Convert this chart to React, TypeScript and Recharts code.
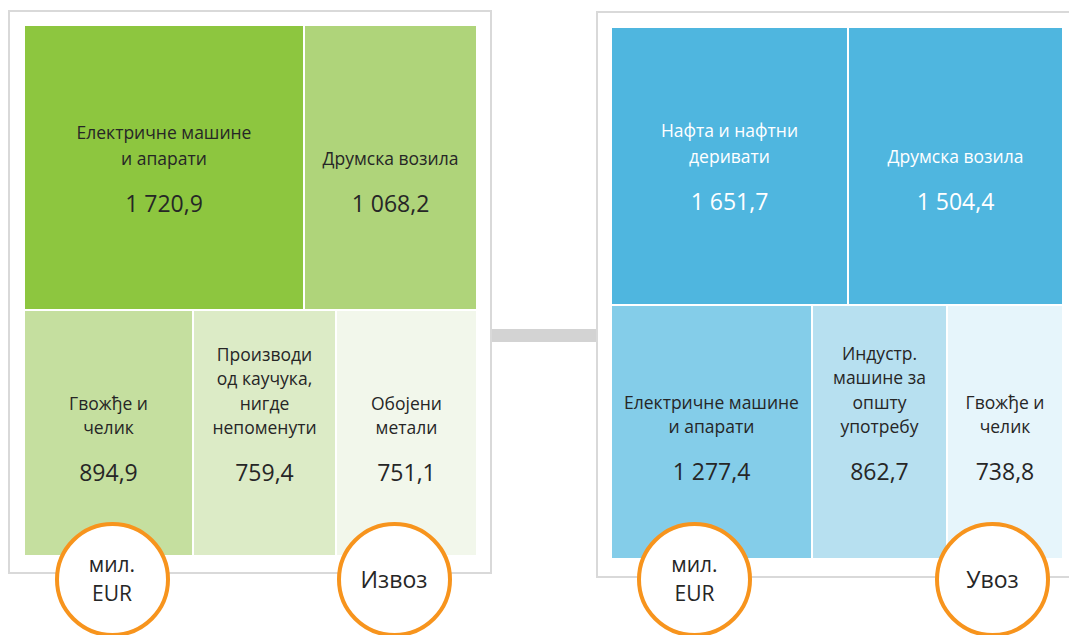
import React from 'react'
import { Treemap } from 'recharts'

// Извоз (export), mil. EUR
const exportNames = [
  'Електричне машине\nи апарати',
  'Друмска возила',
  'Гвожђе и\nчелик',
  'Производи\nод каучука,\nнигде\nнепоменути',
  'Обојени\nметали',
]
const exportValues = [1720.9, 1068.2, 894.9, 759.4, 751.1]

// Увоз (import), mil. EUR
const importNames = [
  'Нафта и нафтни\nдеривати',
  'Друмска возила',
  'Електричне машине\nи апарати',
  'Индустр.\nмашине за\nопшту\nупотребу',
  'Гвожђе и\nчелик',
]
const importValues = [1651.7, 1504.4, 1277.4, 862.7, 738.8]

// how many of the largest items go in the top row
const topRowCount = 2

const exportColors = ['#8dc63f', '#afd47a', '#c5df9f', '#dcebc6', '#f2f7eb']
const importColors = ['#4fb6df', '#4fb6df', '#84cde9', '#b7e0f0', '#e6f5fb']
const importTextColors = ['#ffffff', '#ffffff', '#262626', '#262626', '#262626']

const FONT = '"Open Sans", sans-serif'

const buildTree = (names: string[], values: number[]) => {
  const items = names.map((name, i) => ({ name, value: values[i] }))
  return [
    { name: 'top', children: items.slice(0, topRowCount) },
    { name: 'bottom', children: items.slice(topRowCount) },
  ]
}

const fmt = (v: number) => {
  const [int, dec] = v.toFixed(1).split('.')
  return int.replace(/\B(?=(\d{3})+(?!\d))/g, ' ') + ',' + dec
}

function makeCell(names: string[], fills: string[], textColors?: string[]) {
  return function Cell(props: any) {
    const { depth, x, y, width, height, name, value } = props
    if (depth !== 2) return <g />
    const i = names.indexOf(name)
    const lines = String(name).split('\n')
    const cx = x + width / 2
    const cy = y + height / 2
    const color = textColors ? textColors[i] : '#262626'
    const tall = height > 260
    const gap = tall ? 26 : 24.5
    const labelOff = tall ? -10 : -6
    const valueOff = tall ? 35 : 39
    return (
      <g>
        <rect x={x} y={y} width={width} height={height} fill={fills[i]} stroke="#fff" strokeWidth={2} />
        {lines.map((ln, k) => (
          <text
            key={k}
            x={cx}
            y={cy + labelOff - (lines.length - 1 - k) * gap}
            textAnchor="middle"
            dominantBaseline="central"
            fontFamily={FONT}
            fontSize={17.5}
            fill={color}
          >
            {ln}
          </text>
        ))}
        <text
          x={cx}
          y={cy + valueOff}
          textAnchor="middle"
          dominantBaseline="central"
          fontFamily={FONT}
          fontSize={23}
          fill={color}
        >
          {fmt(value)}
        </text>
      </g>
    )
  }
}

const ExportCell = makeCell(exportNames, exportColors)
const ImportCell = makeCell(importNames, importColors, importTextColors)

function Badge({ cx, cy, lines, size }: { cx: number; cy: number; lines: string[]; size: number }) {
  return (
    <div
      style={{
        position: 'absolute',
        left: cx - 57.5,
        top: cy - 57.5,
        width: 115,
        height: 115,
        boxSizing: 'border-box',
        borderRadius: '50%',
        border: '4px solid #f7941d',
        background: '#fff',
        display: 'flex',
        flexDirection: 'column',
        alignItems: 'center',
        justifyContent: 'center',
        fontFamily: FONT,
        fontSize: size,
        lineHeight: '29px',
        color: '#262626',
      }}
    >
      {lines.map((l) => (
        <span key={l}>{l}</span>
      ))}
    </div>
  )
}

export default function App() {
  return (
    <div style={{ position: 'absolute', left: 0, top: 0, width: 1069, height: 635, overflow: 'hidden', background: '#fff' }}>
      {/* connector */}
      <div style={{ position: 'absolute', left: 492, top: 329, width: 105, height: 13, background: '#d3d3d3' }} />

      {/* export panel */}
      <div
        style={{
          position: 'absolute',
          left: 8,
          top: 10,
          width: 484,
          height: 564,
          boxSizing: 'border-box',
          border: '2px solid #d9d9d9',
          background: '#fff',
        }}
      />
      <div style={{ position: 'absolute', left: 24, top: 25 }}>
        <Treemap
          width={453}
          height={531}
          data={buildTree(exportNames, exportValues)}
          dataKey="value"
          aspectRatio={1.12}
          isAnimationActive={false}
          content={(p: any) => <ExportCell {...p} />}
        />
      </div>

      {/* import panel */}
      <div
        style={{
          position: 'absolute',
          left: 596,
          top: 11,
          width: 490,
          height: 567,
          boxSizing: 'border-box',
          border: '2px solid #d9d9d9',
          background: '#fff',
        }}
      />
      <div style={{ position: 'absolute', left: 611, top: 27 }}>
        <Treemap
          width={452}
          height={532}
          data={buildTree(importNames, importValues)}
          dataKey="value"
          aspectRatio={1.12}
          isAnimationActive={false}
          content={(p: any) => <ImportCell {...p} />}
        />
      </div>

      <Badge cx={112} cy={579} lines={['мил.', 'EUR']} size={21} />
      <Badge cx={394} cy={579} lines={['Извоз']} size={23} />
      <Badge cx={694.5} cy={579} lines={['мил.', 'EUR']} size={21} />
      <Badge cx={992.5} cy={579} lines={['Увоз']} size={23} />
    </div>
  )
}
